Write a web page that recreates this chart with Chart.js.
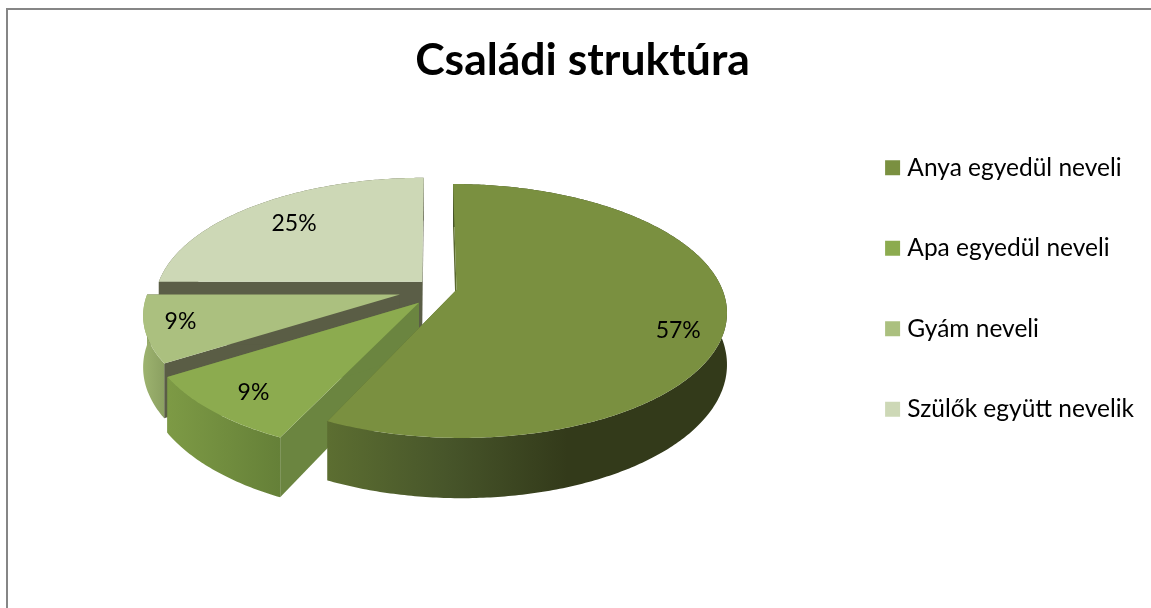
<!DOCTYPE html>
<html><head><meta charset="utf-8">
<script src="https://cdn.jsdelivr.net/npm/chart.js@4"></script>
<style>html,body{margin:0;padding:0;background:#fff}#w{position:absolute;left:0;top:0;width:1151px;height:608px}</style>
</head><body><div id="w"><canvas id="c" width="1151" height="608"></canvas></div>
<script>
const categories = ["Anya egyedül neveli","Apa egyedül neveli","Gyám neveli","Szülők együtt nevelik"];
const values = [57,9,9,25];
const titleText = "Családi struktúra";
const colors = ["#7a9040","#8cab4f","#abc07f","#cdd8b6"];
const sideLight = ["#5a6c30","#7d9a45","#9db36f","#5b5e47"];
const sideDark = ["#2e3818","#658038","#8ba061","#5b5e47"];
const wallColors = ["#59682f","#6b8540","#5a5d45","#5b5e47"];
const offsets = [100,120,104,56];
const sliceNudge = [[2,0],[9,5],[-5,4],[2,-1]];
const sliceScale = [1,1,0.95,1];
const labelSpots = [[0.845,0.658],[0.835,0.483],[0.82,0.52],[0.745,0.49]];

const P = {k:0.4625,p:0.1667,depth:60,shiftX:2.5,lift:-47.5};
function project(cx,cy,R,dx,dy,z,n){
  const v = dy/R, s = 1/(1-P.p*v);
  return [cx+P.shiftX+n[0]+dx*s, cy+P.lift+n[1]+R*P.k*v*s+z*s*P.depth/1.2];
}
const pie3d = {
  id:'pie3d',
  beforeDatasetDraw(chart,args){
    const ctx = chart.ctx, meta = chart.getDatasetMeta(0), els = meta.data;
    const R = els[0].outerRadius, cx = els[0].x, cy = els[0].y;
    const geo = els.map((e,i)=>{
      const mid=(e.startAngle+e.endAngle)/2, off=(e.options.offset||0)/4;
      return {e,ox:Math.cos(mid)*off,oy:Math.sin(mid)*off,n:sliceNudge[i],r:R*sliceScale[i]};
    });
    const pt=(g,a,z,r=g.r)=>project(cx,cy,R,g.ox+Math.cos(a)*r,g.oy+Math.sin(a)*r,z,g.n);
    const poly=(pts,fill)=>{ctx.beginPath();pts.forEach((q,i)=>i?ctx.lineTo(q[0],q[1]):ctx.moveTo(q[0],q[1]));ctx.closePath();ctx.fillStyle=fill;ctx.fill();};
    const rim=(g,a0,a1,z)=>{const n=Math.max(2,Math.ceil((a1-a0)*R/3)),o=[];for(let i=0;i<=n;i++)o.push(pt(g,a0+(a1-a0)*i/n,z));return o;};
    [3,2,1,0].forEach(i=>{
      const g=geo[i],e=g.e,apex0=pt(g,0,0,0),apex1=pt(g,0,1,0);
      const a0=e.startAngle,a1=e.endAngle;
      const s0=pt(g,a0,0),s1=pt(g,a1,0),b0=pt(g,a0,1),b1=pt(g,a1,1);
      poly([apex0,s0,b0,apex1],wallColors[i]);
      poly([apex0,s1,b1,apex1],wallColors[i]);
      const top=rim(g,a0,a1,0),bot=rim(g,a0,a1,1);
      const xs=top.map(q=>q[0]);
      const minx=Math.min(...xs),maxx=Math.max(...xs);
      const gr=ctx.createLinearGradient(minx,0,maxx,0);
      if(i===0){gr.addColorStop(0,'#5c6e31');gr.addColorStop(0.3,'#47552a');gr.addColorStop(0.6,'#333a1a');gr.addColorStop(1,'#333a1a');}
      else{gr.addColorStop(0,sideLight[i]);gr.addColorStop(1,sideDark[i]);}
      poly(top.concat(bot.reverse()),gr);
      const t=[apex0].concat(rim(g,a0,a1,0));
      poly(t,e.options.backgroundColor);
    });
    ctx.font='23px Lato';ctx.fillStyle='#000';ctx.textAlign='center';ctx.textBaseline='middle';
    const total=values.reduce((a,b)=>a+b,0);
    geo.forEach((g,i)=>{
      const e=g.e,mid=(e.startAngle+e.endAngle)/2+(labelSpots[i][1]-0.5);
      const q=pt(g,mid,0,R*labelSpots[i][0]);
      ctx.fillText(Math.round(values[i]/total*100)+'%',q[0],q[1]);
    });
    return false;
  }
};
new Chart(document.getElementById('c'),{
  type:'pie',
  data:{labels:categories,datasets:[{data:values,backgroundColor:colors,borderWidth:0,offset:offsets}]},
  plugins:[pie3d,{id:'frame',beforeDraw(ch){const c=ch.ctx;c.save();c.strokeStyle='#868686';c.lineWidth=2;c.beginPath();c.moveTo(7,608);c.lineTo(7,9);c.lineTo(1151,9);c.stroke();c.restore();}}],
  options:{
    responsive:false,animation:false,
    radius:265,
    layout:{padding:{left:21,right:7,top:15,bottom:46}},
    plugins:{
      tooltip:{enabled:false},
      title:{display:true,text:titleText,color:'#000',font:{family:'Lato',size:44.5,weight:'bold'},padding:{top:19,bottom:20}},
      legend:{position:'right',labels:{color:'#000',boxWidth:5,boxHeight:5,padding:56,font:{family:'Lato',size:24.5},
        generateLabels(chart){
          return categories.map((t,i)=>({text:t,fillStyle:colors[i],strokeStyle:colors[i],lineWidth:10,index:i,hidden:false}));
        }}}
    }
  }
});
</script></body></html>
